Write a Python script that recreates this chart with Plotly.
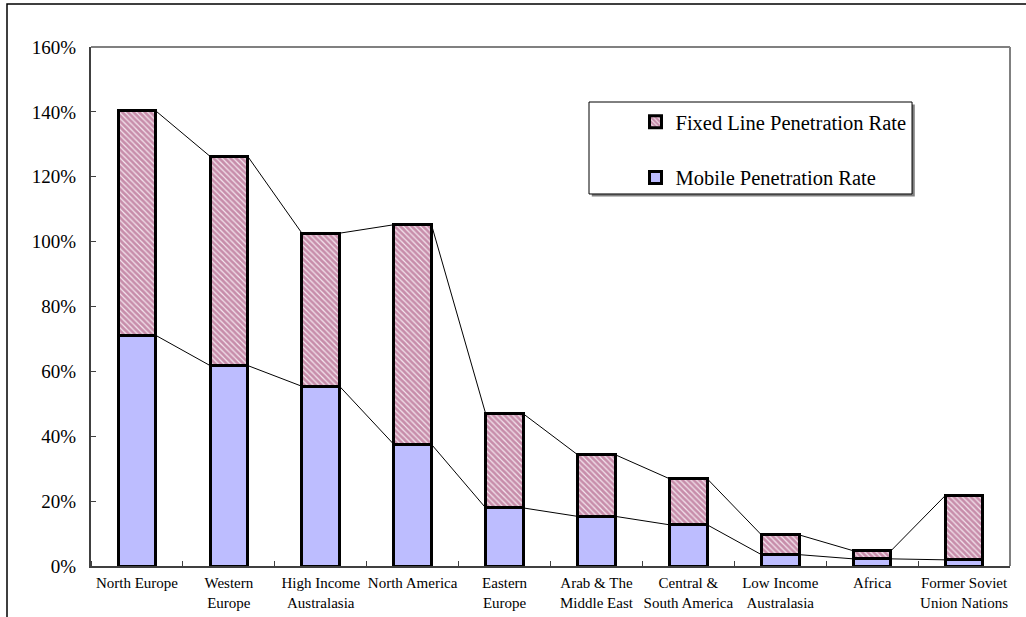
import plotly.graph_objects as go

# Regions (category axis labels)
regions = [
    "North Europe", "Western<br>Europe", "High Income<br>Australasia", "North America",
    "Eastern<br>Europe", "Arab & The<br>Middle East", "Central &<br>South America",
    "Low Income<br>Australasia", "Africa", "Former Soviet<br>Union Nations",
]

# Penetration rates (fractions)
mobile_rate = [0.711, 0.618, 0.554, 0.375, 0.179, 0.153, 0.127, 0.035, 0.022, 0.019]
fixed_rate = [0.692, 0.645, 0.472, 0.677, 0.290, 0.190, 0.142, 0.061, 0.025, 0.198]

y_ticks = [0, 0.2, 0.4, 0.6, 0.8, 1.0, 1.2, 1.4, 1.6]

BAR_W = 0.41
FONT = "Liberation Serif"

x_pos = list(range(len(regions)))
totals = [m + f for m, f in zip(mobile_rate, fixed_rate)]


def series_lines(values):
    """Connectors from the right edge of each bar segment to the left edge of the next."""
    xs, ys = [], []
    for i in range(len(values) - 1):
        xs += [x_pos[i] + BAR_W / 2, x_pos[i + 1] - BAR_W / 2, None]
        ys += [values[i], values[i + 1], None]
    return xs, ys


fig = go.Figure()

fig.add_trace(go.Bar(
    x=x_pos, y=mobile_rate, width=BAR_W, name="Mobile Penetration Rate",
    legendgroup="m", legendrank=2,
    marker=dict(color="#BDBDFF", line=dict(color="black", width=3)),
))
fig.add_trace(go.Bar(
    x=x_pos, y=fixed_rate, width=BAR_W, name="Fixed Line Penetration Rate",
    legendgroup="f", legendrank=1,
    marker=dict(
        color="white",
        line=dict(color="black", width=3),
        pattern=dict(shape="\\", fgcolor="#993366", bgcolor="#F4E6EE", size=4, solidity=0.7),
    ),
))

for vals in (mobile_rate, totals):
    lx, ly = series_lines(vals)
    fig.add_trace(go.Scatter(
        x=lx, y=ly, mode="lines", showlegend=False, hoverinfo="skip",
        line=dict(color="black", width=1),
    ))

# legend frame (paper coordinates)
LX0, LX1, LY0, LY1 = 0.5419, 0.8934, 0.7168, 0.894

fig.update_layout(
    width=1026, height=617,
    margin=dict(l=91, r=16, t=47, b=51),
    paper_bgcolor="white", plot_bgcolor="white",
    barmode="stack",
    font=dict(family=FONT, color="black"),
    showlegend=True,
    legend=dict(
        x=0.5925, y=0.894, xanchor="left", yanchor="top",
        traceorder="grouped", tracegroupgap=26,
        font=dict(family=FONT, size=20.5, color="black"),
        bgcolor="rgba(0,0,0,0)", borderwidth=0,
        itemwidth=30,
    ),
    xaxis=dict(
        range=[-0.5, 9.5], automargin=False,
        tickmode="array", tickvals=x_pos, ticktext=regions,
        ticks="", showgrid=False, zeroline=False,
        showline=True, linecolor="#404040", linewidth=2,
        tickfont=dict(family=FONT, size=15, color="black"),
        ticklabelstandoff=2,
        minor=dict(tick0=-0.5, dtick=1, ticks="inside", ticklen=5, tickcolor="#404040", tickwidth=1),
    ),
    yaxis=dict(
        range=[0, 1.6], automargin=False,
        tickmode="array", tickvals=y_ticks, tickformat=".0%",
        ticks="inside", ticklen=5, tickcolor="#404040",
        showgrid=False, zeroline=False,
        showline=True, linecolor="#404040", linewidth=2,
        tickfont=dict(family=FONT, size=19, color="black"),
        ticklabelstandoff=9,
    ),
    shapes=[
        # plot-area border (top and right)
        dict(type="line", xref="paper", yref="paper", x0=0, y0=1, x1=1, y1=1,
             line=dict(color="#808080", width=2)),
        dict(type="line", xref="paper", yref="paper", x0=1, y0=0, x1=1, y1=1,
             line=dict(color="#808080", width=2)),
        # chart frame
        dict(type="rect", xref="paper", yref="paper",
             x0=-0.0914, y0=-0.3, x1=1.05, y1=1.0829,
             line=dict(color="black", width=1.5)),
        # legend shadow and frame
        dict(type="rect", xref="paper", yref="paper",
             x0=LX0 + 0.003, y0=LY0 - 0.005, x1=LX1 + 0.003, y1=LY1 - 0.005,
             fillcolor="#808080", line=dict(width=0)),
        dict(type="rect", xref="paper", yref="paper",
             x0=LX0, y0=LY0, x1=LX1, y1=LY1,
             fillcolor="white", line=dict(color="black", width=1)),
    ],
)

fig.write_html("out.html")
